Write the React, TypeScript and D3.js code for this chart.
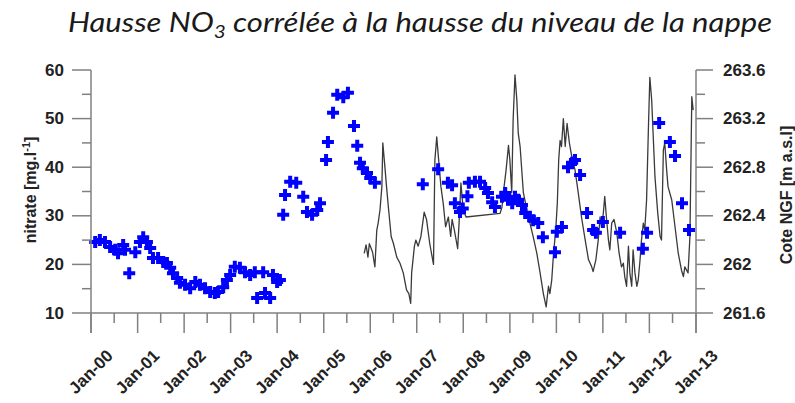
import React from 'react';
import * as d3 from 'd3';

const W = 795;
const H = 403;

const nitrateDates = [
  2000.09, 2000.19, 2000.30, 2000.41, 2000.52, 2000.58, 2000.69, 2000.73, 2000.82, 2000.95,
  2001.05, 2001.12, 2001.20, 2001.27, 2001.33, 2001.44, 2001.55, 2001.63, 2001.70, 2001.76,
  2001.85, 2001.91, 2002.02, 2002.13, 2002.24, 2002.34, 2002.45, 2002.56, 2002.66, 2002.73,
  2002.84, 2002.92, 2002.99, 2003.09, 2003.20, 2003.31, 2003.42, 2003.52, 2003.57, 2003.70,
  2003.74, 2003.85, 2003.91, 2004.00, 2004.06, 2004.13, 2004.17, 2004.28, 2004.41, 2004.56,
  2004.64, 2004.75, 2004.86, 2004.92, 2005.05, 2005.09, 2005.20, 2005.29, 2005.42, 2005.52,
  2005.65, 2005.72, 2005.78, 2005.84, 2005.93, 2006.00, 2006.10, 2007.13, 2007.46, 2007.67,
  2007.76, 2007.82, 2007.93, 2007.99, 2008.09, 2008.12, 2008.25, 2008.36, 2008.47, 2008.53,
  2008.62, 2008.68, 2008.83, 2008.90, 2008.96, 2009.05, 2009.11, 2009.18, 2009.26, 2009.33,
  2009.43, 2009.50, 2009.61, 2009.71, 2009.97, 2010.01, 2010.12, 2010.25, 2010.34, 2010.40,
  2010.51, 2010.66, 2010.79, 2010.85, 2011.00, 2011.37, 2011.86, 2011.95, 2012.21, 2012.44,
  2012.55, 2012.70, 2012.85,
];
const nitrateValues = [
  24.6, 25.0, 24.6, 23.6, 23.0, 22.3, 24.0, 23.0, 18.2, 22.5,
  24.6, 25.6, 24.6, 23.4, 21.3, 21.3, 20.5, 20.3, 19.3, 18.2,
  17.2, 16.2, 15.8, 15.1, 16.4, 15.8, 15.1, 14.3, 14.1, 14.3,
  15.3, 16.8, 17.8, 19.5, 19.3, 18.4, 17.8, 18.4, 13.1, 18.4,
  14.1, 13.1, 17.8, 16.4, 16.8, 30.2, 34.3, 37.0, 36.8, 33.9,
  30.8, 30.2, 31.2, 32.6, 41.5, 45.2, 51.2, 54.9, 54.4, 55.3,
  48.5, 44.4, 40.9, 39.8, 38.8, 37.8, 36.8, 36.5, 39.6, 36.8,
  36.3, 32.6, 30.8, 31.5, 34.0, 36.8, 37.0, 37.0, 35.7, 34.7,
  32.8, 31.8, 33.9, 34.7, 33.3, 32.6, 33.9, 33.3, 32.2, 30.6,
  29.8, 29.1, 28.5, 25.6, 22.5, 26.7, 27.7, 40.0, 40.9, 41.5,
  38.4, 30.6, 27.1, 26.5, 28.7, 26.5, 23.2, 26.5, 49.1, 45.2,
  42.3, 32.6, 27.1,
];

const levelDates = [
  2005.87, 2005.91, 2005.95, 2005.98, 2006.02, 2006.05, 2006.10, 2006.14, 2006.17, 2006.21,
  2006.25, 2006.27, 2006.32, 2006.35, 2006.39, 2006.45, 2006.50, 2006.57, 2006.64, 2006.71,
  2006.78, 2006.83, 2006.87, 2006.89, 2006.95, 2006.98, 2007.03, 2007.09, 2007.16, 2007.21,
  2007.28, 2007.36, 2007.39, 2007.43, 2007.46, 2007.52, 2007.57, 2007.62, 2007.68, 2007.73,
  2007.76, 2007.81, 2007.88, 2007.91, 2007.95, 2008.00, 2008.06, 2008.79, 2008.83, 2008.86,
  2008.92, 2008.97, 2009.00, 2009.04, 2009.07, 2009.11, 2009.15, 2009.18, 2009.22, 2009.29,
  2009.40, 2009.50, 2009.58, 2009.65, 2009.72, 2009.78, 2009.83, 2009.86, 2009.90, 2009.93,
  2009.99, 2010.02, 2010.05, 2010.08, 2010.11, 2010.15, 2010.19, 2010.23, 2010.28, 2010.33,
  2010.40, 2010.47, 2010.54, 2010.62, 2010.69, 2010.76, 2010.79, 2010.85, 2010.90, 2010.94,
  2010.97, 2011.01, 2011.04, 2011.08, 2011.12, 2011.15, 2011.19, 2011.24, 2011.30, 2011.35,
  2011.40, 2011.44, 2011.47, 2011.51, 2011.55, 2011.58, 2011.62, 2011.65, 2011.69, 2011.73,
  2011.76, 2011.80, 2011.83, 2011.87, 2011.90, 2011.94, 2011.98, 2012.01, 2012.05, 2012.08,
  2012.12, 2012.18, 2012.23, 2012.26, 2012.30, 2012.33, 2012.37, 2012.40, 2012.48, 2012.55,
  2012.62, 2012.69, 2012.73, 2012.76, 2012.83, 2012.87, 2012.91, 2012.94,
];
const levelValues = [
  262.09, 262.16, 262.06, 262.17, 262.13, 262.10, 261.98, 262.28, 262.34, 262.45,
  262.64, 263.00, 262.78, 262.64, 262.47, 262.23, 262.17, 262.06, 262.01, 261.93,
  261.79, 261.76, 261.68, 261.93, 262.15, 262.20, 262.15, 262.23, 262.43, 262.37,
  262.17, 262.00, 262.86, 263.05, 262.91, 262.64, 262.50, 262.31, 262.39, 262.23,
  262.37, 262.28, 262.13, 262.34, 262.67, 262.45, 262.39, 262.42, 262.47, 262.59,
  262.78, 262.98, 262.86, 262.59, 263.19, 263.56, 263.35, 263.08, 262.97, 262.59,
  262.39, 262.23, 262.09, 261.93, 261.76, 261.65, 261.82, 261.76, 261.87, 262.04,
  262.31, 262.50, 262.86, 263.02, 262.97, 263.20, 262.97, 263.16, 263.00, 262.89,
  262.78, 262.59, 262.39, 262.20, 262.04, 261.98, 261.94, 262.04, 262.20, 262.39,
  262.31, 262.42, 262.56, 262.37, 262.20, 262.12, 262.34, 262.37, 262.26, 262.09,
  261.98, 262.01, 261.90, 261.82, 262.15, 261.93, 261.82, 262.12, 261.93, 261.82,
  261.87, 262.04, 262.20, 262.34, 262.28, 262.53, 263.13, 263.54, 263.35, 263.08,
  262.72, 262.42, 262.23, 262.20, 262.94, 263.00, 262.78, 262.64, 262.53, 262.31,
  262.09, 261.95, 261.90, 261.98, 261.93, 262.23, 263.38, 263.27,
];

const leftTicks = [10, 20, 30, 40, 50, 60];
const leftMinorTicks = [15, 25, 35, 45, 55];
const rightTicks = [261.6, 262, 262.4, 262.8, 263.2, 263.6];
const rightMinorTicks = [261.8, 262.2, 262.6, 263.0, 263.4];
const yearLabels = [
  'Jan-00', 'Jan-01', 'Jan-02', 'Jan-03', 'Jan-04', 'Jan-05', 'Jan-06',
  'Jan-07', 'Jan-08', 'Jan-09', 'Jan-10', 'Jan-11', 'Jan-12', 'Jan-13',
];

function toDate(y: number): Date {
  const yr = Math.floor(y);
  const a = new Date(yr, 0, 1).getTime();
  const b = new Date(yr + 1, 0, 1).getTime();
  return new Date(a + (y - yr) * (b - a));
}

const AX = '#808080';
const FONT = "'Liberation Sans', Arial, sans-serif";

export default function App() {
  const x = d3.scaleTime().domain([new Date(2000, 0, 1), new Date(2013, 0, 1)]).range([91, 696]);
  const yL = d3.scaleLinear().domain([10, 60]).range([313, 70]);
  const yR = d3.scaleLinear().domain([261.6, 263.6]).range([313, 70]);
  const x0 = 91, x1 = 696, yb = 313;

  const majorX = yearLabels.map((_, i) => new Date(2000 + i, 0, 1));
  const minorX = yearLabels.slice(0, -1).map((_, i) => new Date(2000 + i, 6, 1));

  const cross = d3.symbol().type(d3.symbolCross).size(80)() as string;
  const line = d3.line<number>()
    .x((_, i) => x(toDate(levelDates[i])))
    .y((d) => yR(d));

  return (
    <svg width={W} height={H} style={{ position: 'absolute', left: 0, top: 0, background: '#fff' }}>
      <text x={68} y={32} fontFamily="Lato, 'Open Sans', sans-serif" fontStyle="italic" fontSize={27} fill="#1a1a1a"
        textLength={704} lengthAdjust="spacingAndGlyphs">
        Hausse NO<tspan fontSize={18} dy={6}>3</tspan><tspan dy={-6}> corrélée à la hausse du niveau de la nappe</tspan>
      </text>

      {/* level line */}
      <path d={line(levelValues) || ''} fill="none" stroke="#3a3a3a" strokeWidth={1.3} strokeLinejoin="round" />

      {/* nitrate points */}
      {nitrateValues.map((v, i) => (
        <path key={i} d={cross} transform={`translate(${x(toDate(nitrateDates[i]))},${yL(v)})`} fill="#0000ff" />
      ))}

      {/* axes */}
      <g stroke={AX} strokeWidth={1.5}>
        <line x1={x0} y1={70} x2={x0} y2={333} />
        <line x1={x1} y1={70} x2={x1} y2={333} />
        <line x1={x0} y1={yb} x2={x1} y2={yb} />
        {leftTicks.map((t) => <line key={'l' + t} x1={72} x2={x0} y1={yL(t)} y2={yL(t)} />)}
        {leftMinorTicks.map((t) => <line key={'lm' + t} x1={82} x2={x0} y1={yL(t)} y2={yL(t)} />)}
        {rightTicks.map((t) => <line key={'r' + t} x1={x1} x2={713} y1={yR(t)} y2={yR(t)} />)}
        {rightMinorTicks.map((t) => <line key={'rm' + t} x1={x1} x2={705} y1={yR(t)} y2={yR(t)} />)}
        {majorX.map((d, i) => <line key={'x' + i} x1={x(d)} x2={x(d)} y1={yb} y2={333} />)}
        {minorX.map((d, i) => <line key={'xm' + i} x1={x(d)} x2={x(d)} y1={yb} y2={323} />)}
      </g>

      <g fontFamily={FONT} fontWeight="bold" fontSize={17} fill="#222">
        {leftTicks.map((t) => (
          <text key={'lt' + t} x={64} y={yL(t)} textAnchor="end" dominantBaseline="central">{t}</text>
        ))}
        {rightTicks.map((t) => (
          <text key={'rt' + t} x={723} y={yR(t)} textAnchor="start" dominantBaseline="central">{d3.format('~f')(t)}</text>
        ))}
        {majorX.map((d, i) => (
          <text key={'xl' + i} transform={`translate(${x(d)},372) rotate(-45)`} textAnchor="middle"
            dominantBaseline="central" fontSize={17}>{yearLabels[i]}</text>
        ))}
        <text transform="translate(36,190) rotate(-90)" textAnchor="middle" fontSize={16}>
          nitrate [mg.l<tspan fontSize={11} dy={-6}>-1</tspan><tspan dy={6}>]</tspan>
        </text>
        <text transform="translate(792,195) rotate(-90)" textAnchor="middle" fontSize={16}>Cote NGF [m a.s.l]</text>
      </g>
    </svg>
  );
}
